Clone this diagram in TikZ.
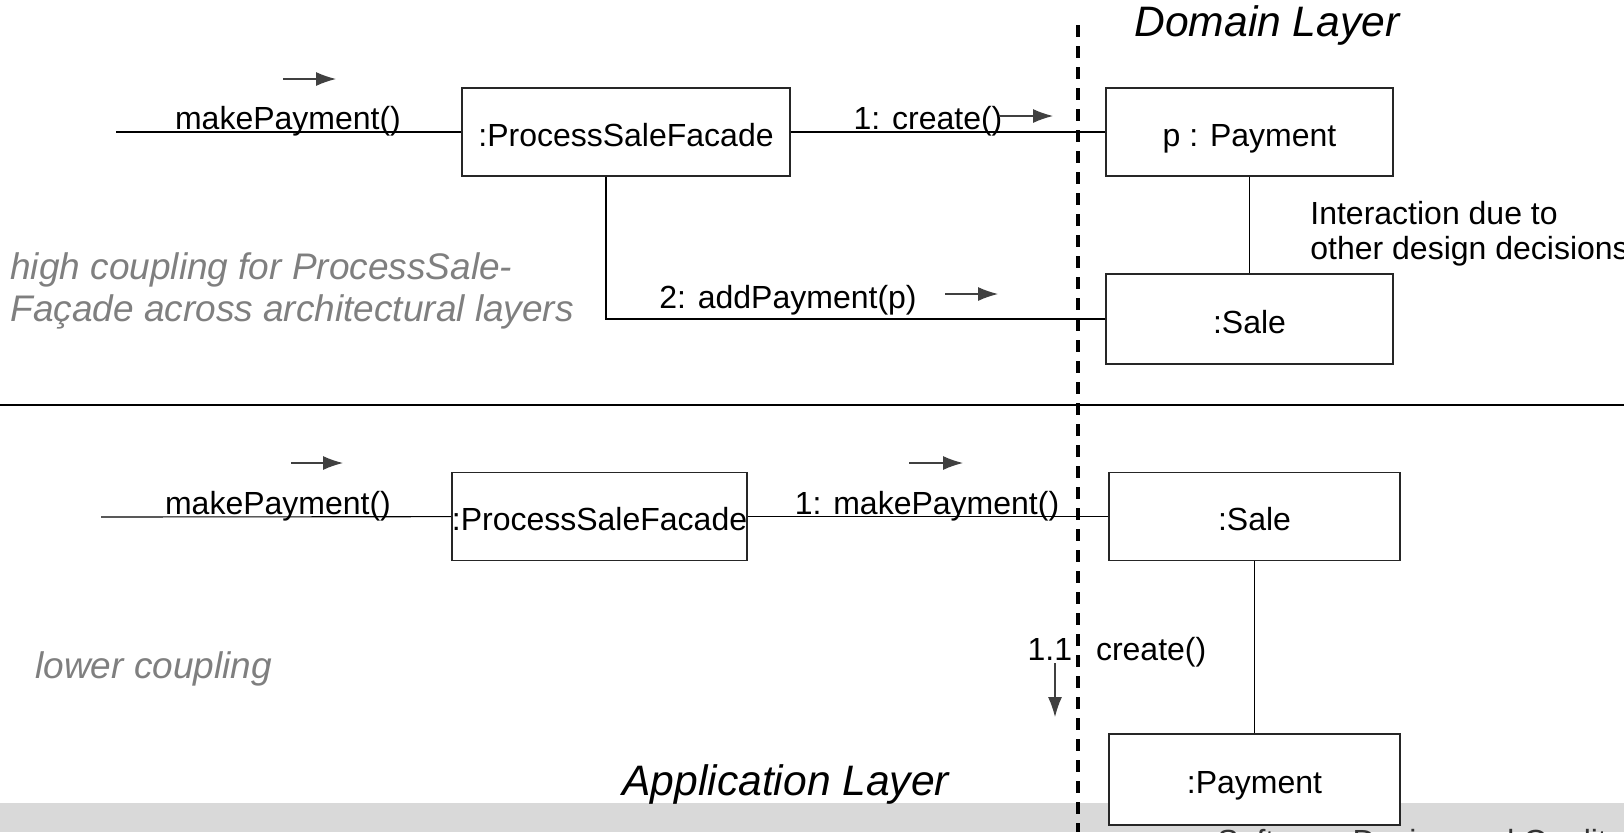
\documentclass[tikz,border=0pt]{standalone}
\usepackage{fontspec}
\setmainfont{Liberation Sans}
\usetikzlibrary{arrows.meta}
\definecolor{notegray}{HTML}{7F7F7F}
\definecolor{bandgray}{HTML}{D9D9D9}
\tikzset{
  obj/.style = {draw=black!85, line width=0.7pt, fill=white, inner sep=0pt,
    minimum height=44pt, text height=14pt, text depth=0pt, font=\fontsize{16}{19}\selectfont},
  msg/.style = {font=\fontsize{16}{19}\selectfont, anchor=base, inner sep=0pt},
  link/.style = {line width=0.55pt},
  dir/.style = {draw=black!75, line width=0.6pt, -{Latex[length=10pt,width=7pt]}},
  note/.style = {font=\fontsize{18.5}{20.7}\selectfont\itshape, text=notegray,
    anchor=base west, inner sep=0pt, align=left},
  layer/.style = {font=\fontsize{21.3}{24}\selectfont\itshape, anchor=base west, inner sep=0pt}
}

\begin{document}
\begin{tikzpicture}[x=0.5pt,y=-0.5pt]
  \useasboundingbox (0,0) rectangle (1624,832);
  \clip (0,0) rectangle (1624,832);
  \fill[bandgray] (0,803) rectangle (1624,832);
  \node[msg, anchor=base west, text=black!80] (footer) at (1217,852) {Software Design and Quality Control};

  % layers
  \coordinate (sepL) at (0,405);
  \coordinate (sepR) at (1624,405);
  \draw[line width=0.8pt] (sepL) -- (sepR);
  \coordinate (divT) at (1078,25);
  \coordinate (divB) at (1078,832);
  \draw[line width=1.8pt, dash pattern=on 6pt off 4.5pt] (divT) -- (divB);
  \node[layer] (domain) at (1134,36) {Domain Layer};
  \node[layer] (application) at (622,795) {Application Layer};

  % high coupling
  \node[obj, minimum width=164pt] (facadeA) at (626,132) {:ProcessSaleFacade};
  \node[obj, minimum width=143.5pt] (paymentA) at (1249.5,132) {p : Payment};
  \node[obj, minimum width=143.5pt, minimum height=45pt] (saleA) at (1249.5,319) {:Sale};
  \coordinate (inA) at (116,132);
  \draw[link] (inA) -- (facadeA);
  \draw[link] (facadeA) -- (paymentA);
  \draw[link] ([xshift=-10pt]facadeA.south) |- (saleA.west);
  \draw[link] (paymentA) -- (saleA);
  \node[msg] (callA) at (288,129) {makePayment()};
  \node[msg] (createA) at (928,129) {1: create()};
  \node[msg] (addA) at (788,308) {2: addPayment(p)};
  \draw[dir] (283,79) -- (336,79);
  \draw[dir] (999,116) -- (1053,116);
  \draw[dir] (945,294) -- (998,294);
  \node[msg, anchor=base west, align=left] (why) at (1310,259)
    {Interaction due to\\[-1.5pt]other design decisions};
  \node[note] (highnote) at (10,321)
    {high coupling for ProcessSale-\\Façade across architectural layers};

  % lower coupling
  \node[obj, minimum width=145.5pt] (facadeB) at (599.5,516.5) {:ProcessSaleFacade};
  \node[obj, minimum width=145.5pt] (saleB) at (1254.5,516.5) {:Sale};
  \node[obj, minimum width=145.5pt, minimum height=45.5pt] (paymentB) at (1254.5,779.5) {:Payment};
  \coordinate (inB) at (101,517);
  \draw[link] (inB) -- (facadeB);
  \draw[link] (facadeB) -- (saleB);
  \draw[link] (saleB) -- (paymentB);
  \node[msg] (callB) at (278,514) {makePayment()};
  \node[msg] (makeB) at (927,514) {1: makePayment()};
  \node[msg] (createB) at (1117,660) {1.1\hspace{7.5pt} create()};
  \draw[dir] (291,463) -- (343,463);
  \draw[dir] (909,463) -- (963,463);
  \draw[dir] (1055,663) -- (1055,717);
  \node[note] (lownote) at (35,678) {lower coupling};
\end{tikzpicture}
\end{document}
